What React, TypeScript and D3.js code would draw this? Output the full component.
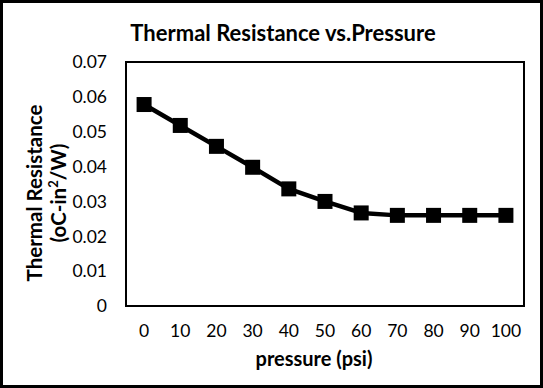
import React from 'react';
import * as d3 from 'd3';

// pressure (psi) vs thermal resistance (oC-in2/W)
const pressures: string[] = ['0', '10', '20', '30', '40', '50', '60', '70', '80', '90', '100'];
const resistance: number[] = [0.0578, 0.0518, 0.0458, 0.0398, 0.0336, 0.030, 0.0267, 0.026, 0.026, 0.026, 0.026];
const yTicks: number[] = [0, 0.01, 0.02, 0.03, 0.04, 0.05, 0.06, 0.07];

const W = 543;
const H = 388;
const margin = { top: 62, right: 19, bottom: 82, left: 126 };
const innerWidth = W - margin.left - margin.right;
const innerHeight = H - margin.top - margin.bottom;
const font = 'Lato, "Noto Sans", sans-serif';

const App: React.FC = () => {
	const x = d3.scaleBand<string>().domain(pressures).range([0, innerWidth]);
	const y = d3.scaleLinear().domain([0, 0.07]).range([innerHeight, 0]);
	const cx = (d: string) => (x(d) as number) + x.bandwidth() / 2;

	const line = d3
		.line<number>()
		.x((d, i) => cx(pressures[i]))
		.y((d) => y(d));

	const marker = 15;

	return (
		<div style={{ position: 'absolute', left: 0, top: 0 }}>
			<svg width={W} height={H} style={{ display: 'block', fontFamily: font }}>
				<rect x={1.5} y={1.5} width={W - 3} height={H - 3} fill="#fff" stroke="#000" strokeWidth={3} />
				<text x={283} y={41} textAnchor="middle" fontSize={22} fontWeight="bold" fill="#000">
					Thermal Resistance vs.Pressure
				</text>
				<g transform={`translate(${margin.left},${margin.top})`}>
					<rect x={0} y={0} width={innerWidth} height={innerHeight} fill="none" stroke="#000" strokeWidth={2} />
					{yTicks.map((t) => (
						<text key={t} x={-19} y={y(t)} dy="0.36em" textAnchor="end" fontSize={17.5} fill="#000">
							{t === 0 ? '0' : d3.format('.2f')(t)}
						</text>
					))}
					{pressures.map((p) => (
						<text key={p} x={cx(p)} y={innerHeight + 31} textAnchor="middle" fontSize={17.5} fill="#000">
							{p}
						</text>
					))}
					<path d={line(resistance) || ''} fill="none" stroke="#000" strokeWidth={4.5} strokeLinejoin="round" />
					{resistance.map((v, i) => (
						<rect
							key={i}
							x={cx(pressures[i]) - marker / 2}
							y={y(v) - marker / 2}
							width={marker}
							height={marker}
							fill="#000"
						/>
					))}
				</g>
				<text x={314} y={366} textAnchor="middle" fontSize={20} fontWeight="bold" fill="#000">
					pressure (psi)
				</text>
				<g transform="translate(0,193) rotate(-90)" fontSize={20.5} fontWeight="bold" fill="#000">
					<text x={0} y={42} textAnchor="middle">
						Thermal Resistance
					</text>
					<text x={0} y={66} textAnchor="middle">
						(oC-in
						<tspan fontSize={13} dy={-8}>
							2
						</tspan>
						<tspan dy={8}>/W)</tspan>
					</text>
				</g>
			</svg>
		</div>
	);
};

export default App;
